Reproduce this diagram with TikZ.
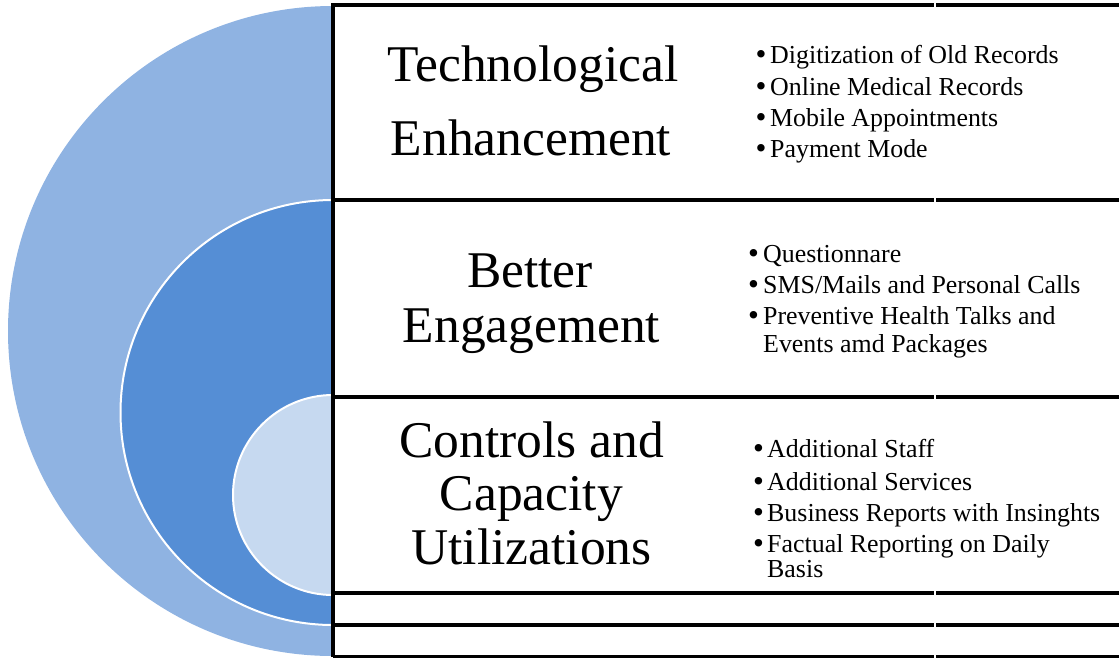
\documentclass[tikz,border=0pt]{standalone}
\usepackage{fontspec}
\setmainfont{Liberation Serif}
\definecolor{outerblue}{HTML}{8FB3E2}
\definecolor{midblue}{HTML}{558ED5}
\definecolor{innerblue}{HTML}{C6D9F0}
\newcommand{\itembul}[1]{\makebox[#1][l]{\raisebox{-1.5pt}{\scalebox{1.2}{•}}}}
\begin{document}
\begin{tikzpicture}[x=1pt,y=-1pt,
  title/.style={anchor=base,font=\fontsize{51.5}{54}\selectfont,inner sep=0pt},
  entry/.style={anchor=base west,font=\fontsize{25.9}{28}\selectfont,inner sep=0pt},
  rule/.style={line width=4pt,draw=black}]
\useasboundingbox (0,0) rectangle (1119,657);
% nested half discs
\begin{scope}
  \clip (0,0) rectangle (333,657);
  \fill[outerblue] (333,331) circle[radius=325];
  \filldraw[fill=midblue,draw=white,line width=2pt] (333,412.5) circle[radius=212.5];
  \filldraw[fill=innerblue,draw=white,line width=2pt] (333,495) circle[radius=100];
\end{scope}
% grid
\draw[rule] (333,3) -- (333,657);
\foreach \yy in {5,200,397,593,625,657}{
  \draw[rule] (333,\yy) -- (933.8,\yy);
  \draw[rule] (936.2,\yy) -- (1119,\yy);
}
% titles
\node[title] (t1a) at (533,81) {Technological};
\node[title] (t1b) at (531,155) {Enhancement};
\node[title] (t2a) at (530,287) {Better};
\node[title] (t2b) at (531.5,342) {Engagement};
\node[title] (t3a) at (531.5,457) {Controls and};
\node[title] (t3b) at (531.5,510) {Capacity};
\node[title] (t3c) at (531.5,564) {Utilizations};
% top list
\node[entry] (a1) at (755.5,63) {\itembul{14.5pt}Digitization of Old Records};
\node[entry] (a2) at (755.5,95) {\itembul{14.5pt}Online Medical Records};
\node[entry] (a3) at (755.5,126) {\itembul{14.5pt}Mobile Appointments};
\node[entry] (a4) at (755.5,157) {\itembul{14.5pt}Payment Mode};
% middle list
\node[entry] (b1) at (748,262) {\itembul{15pt}Questionnare};
\node[entry] (b2) at (748,293) {\itembul{15pt}SMS/Mails and Personal Calls};
\node[entry] (b3) at (748,324) {\itembul{15pt}Preventive Health Talks and};
\node[entry] (b4) at (763,352) {Events amd Packages};
% bottom list
\node[entry] (c1) at (753,457) {\itembul{14pt}Additional Staff};
\node[entry] (c2) at (753,490) {\itembul{14pt}Additional Services};
\node[entry] (c3) at (753,521) {\itembul{14pt}Business Reports with Insinghts};
\node[entry] (c4) at (753,552) {\itembul{14pt}Factual Reporting on Daily};
\node[entry] (c5) at (767,577) {Basis};
\end{tikzpicture}
\end{document}
